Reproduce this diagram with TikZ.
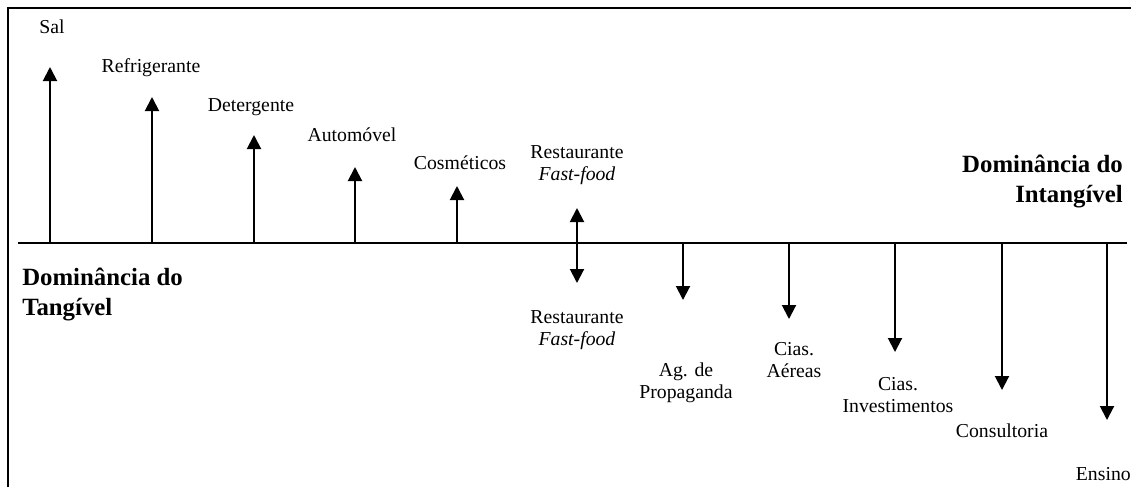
\documentclass[tikz,border=0pt]{standalone}
\usepackage{fontspec}
\setmainfont{Liberation Serif}
\usetikzlibrary{arrows.meta}
\begin{document}
\begin{tikzpicture}[x=0.75pt,y=-0.75pt,
  lbl/.style={inner sep=0pt,anchor=base,align=center,font=\fontsize{14.8}{16.5}\selectfont},
  big/.style={inner sep=0pt,anchor=base,font=\bfseries\fontsize{18.6}{21.8}\selectfont},
  arr/.style={line width=1.5pt,-{Triangle[width=10.5pt,length=10.5pt]}},
  darr/.style={line width=1.5pt,{Triangle[width=10.5pt,length=10.5pt]}-{Triangle[width=10.5pt,length=10.5pt]}},
  frame/.style={line width=1.5pt}]
\useasboundingbox (0,0) rectangle (1131,487);
% frame
\draw[frame] (8,487) -- (8,8) -- (1131,8);
% axis
\coordinate (axL) at (18,243);
\coordinate (axR) at (1127,243);
\draw[line width=1.5pt] (axL) -- (axR);
% base points and tips
\foreach \n/\x/\t in {sal/50/67, ref/152/97, det/254/135, aut/355/167, cos/457/186,
    pro/683/300, aer/789/319, inv/895/352, con/1002/390, ens/1107/420}{
  \coordinate (b\n) at (\x,243);
  \coordinate (t\n) at (\x,\t);
}
\coordinate (rT) at (577,208);
\coordinate (rB) at (577,283);
\foreach \n in {sal,ref,det,aut,cos,pro,aer,inv,con,ens}{
  \draw[arr] (b\n) -- (t\n);
}
\draw[darr] (rB) -- (rT);
% labels (multi-line nodes: base = last line)
\node[lbl] (lsal) at (52,33) {Sal};
\node[lbl] (lref) at (151,72) {Refrigerante};
\node[lbl] (ldet) at (251,111) {Detergente};
\node[lbl] (laut) at (352,141) {Automóvel};
\node[lbl] (lcos) at (460,169) {Cosméticos};
\node[lbl] (lrt) at (577,180) {Restaurante\\\textit{Fast-food}};
\node[lbl] (lrb) at (577,345) {Restaurante\\\textit{Fast-food}};
\node[lbl] (lpro) at (686,398) {Ag. de\\Propaganda};
\node[lbl] (laer) at (794,377) {Cias.\\Aéreas};
\node[lbl] (linv) at (898,412) {Cias.\\Investimentos};
\node[lbl] (lcon) at (1002,437) {Consultoria};
\node[lbl,anchor=base east] (lens) at (1131,480) {Ensino};
\node[big,align=right,anchor=base east] (dint) at (1123,202) {Dominância do\\Intangível};
\node[big,align=left,anchor=base west] (dtan) at (22,315) {Dominância do\\Tangível};
\end{tikzpicture}
\end{document}
